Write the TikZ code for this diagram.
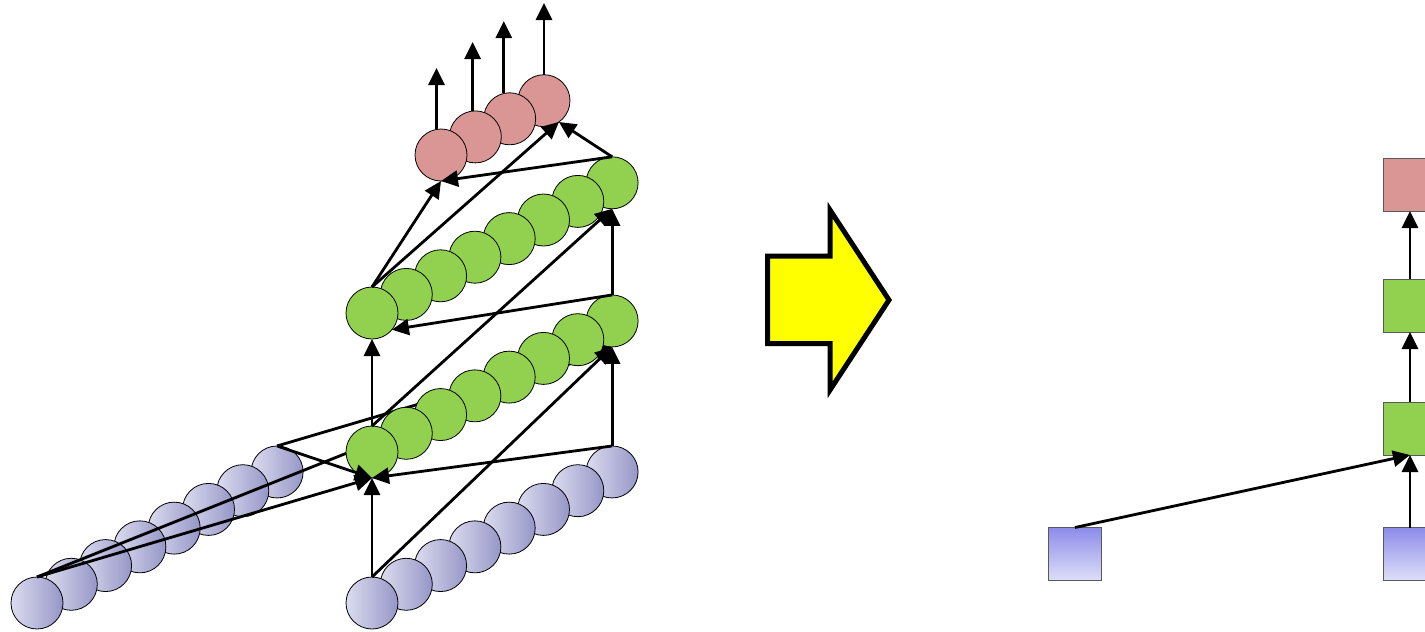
\documentclass[tikz,border=0pt]{standalone}
\usetikzlibrary{arrows.meta,calc}
\pgfdeclarelayer{back}
\pgfdeclarelayer{front}
\pgfdeclarelayer{topl}
\pgfsetlayers{back,main,front,topl}
\definecolor{grn}{HTML}{92D050}
\definecolor{rdd}{HTML}{D99694}
\definecolor{bll}{HTML}{DCDCEF}
\definecolor{bld}{HTML}{9696C8}
\definecolor{sqtop}{HTML}{8C8CEA}
\definecolor{sqbot}{HTML}{DEDEF8}
\definecolor{ylw}{HTML}{FFFF00}
\begin{document}
\begin{tikzpicture}[x=1pt,y=-1pt,
  unit/.style={circle,draw=black,line width=0.8pt,minimum size=52pt,inner sep=0pt,outer sep=0pt},
  bunit/.style={unit,left color=bll,right color=bld},
  gunit/.style={unit,fill=grn},
  runit/.style={unit,fill=rdd},
  sq/.style={rectangle,draw=black!65,line width=0.9pt,minimum size=53pt,inner sep=0pt,outer sep=0pt},
  bsq/.style={sq,top color=sqtop,bottom color=sqbot},
  gsq/.style={sq,fill=grn},
  rsq/.style={sq,fill=rdd},
  conn/.style={line width=2.8pt,-{Triangle[length=17pt,width=16pt]}},
  bigarrow/.style={draw=black,line width=5pt,fill=ylw,line join=miter}]
\useasboundingbox (0,0) rectangle (1425,632);
% ---------- input rows (blue) ----------
\begin{pgfonlayer}{back}
\foreach \i in {8,...,1}{
  \node[bunit] (bl\i) at ({37+34.3*(\i-1)},{603-18.72*(\i-1)}) {};
}
\foreach \i in {8,...,1}{
  \node[bunit] (br\i) at ({372+34.3*(\i-1)},{603-18.72*(\i-1)}) {};
}
\end{pgfonlayer}
% ---------- hidden and output rows ----------
\begin{pgfonlayer}{front}
\foreach \i in {8,...,1}{
  \node[gunit] (gb\i) at ({372+34.3*(\i-1)},{452-18.72*(\i-1)}) {};
}
\foreach \i in {8,...,1}{
  \node[gunit] (gt\i) at ({372+34.3*(\i-1)},{313-18.6*(\i-1)}) {};
}
\foreach \i in {4,...,1}{
  \node[runit] (r\i) at ({441+34.33*(\i-1)},{155-18.1*(\i-1)}) {};
}
\end{pgfonlayer}
% ---------- connectors passing behind the green row ----------
\draw[conn] (bl1.north) -- (gb8.south);
\draw[conn] (bl8.north) -- (gb8.south);
% ---------- other connectors ----------
\begin{pgfonlayer}{topl}
\draw[conn] (bl1.north) -- (gb1.south);
\draw[conn] (bl8.north) -- (gb1.south);
\draw[conn] (br1.north) -- (gb1.south);
\draw[conn] (br1.north) -- (gb8.south);
\draw[conn] (br8.north) -- (gb8.south);
\draw[conn] (br8.north) -- (gb1.south);
\draw[conn] (gb1.north) -- (gt1.south);
\draw[conn] (gb1.north) -- (gt8.south);
\draw[conn] (gb8.north) -- (gt8.south);
\draw[conn] (gb8.north) -- (gt1.-40);
\draw[conn] (gt1.north) -- (r1.south);
\draw[conn] (gt1.north) -- (r4.-55);
\draw[conn] (gt8.north) -- (r1.south);
\draw[conn] (gt8.north) -- (r4.-55);
\coordinate (o1) at (0,68);
\coordinate (o2) at (0,42);
\coordinate (o3) at (0,21);
\coordinate (o4) at (0,3);
\draw[conn] (r1.100) -- (r1.100 |- o1);
\draw[conn] (r2.96) -- (r2.96 |- o2);
\draw[conn] (r3.103) -- (r3.103 |- o3);
\draw[conn] (r4.90) -- (r4.90 |- o4);
\end{pgfonlayer}
% ---------- big yellow arrow ----------
\path[bigarrow] (767.5,256) -- (830,256) -- (830,210) -- (889,300) -- (830,390) -- (830,343.5) -- (767.5,343.5) -- cycle;
% ---------- compact view ----------
\begin{scope}
\clip (0,0) rectangle (1425,632);
\node[bsq] (sb1) at (1075,554) {};
\node[bsq] (sb2) at (1410,554) {};
\node[gsq] (sg1) at (1410,428.5) {};
\node[gsq] (sg2) at (1410,305.5) {};
\node[rsq] (sr) at (1410,184.5) {};
\draw[conn] (sb1.north) -- (sg1.south);
\draw[conn] (sb2.north) -- (sg1.south);
\draw[conn] (sg1.north) -- (sg2.south);
\draw[conn] (sg2.north) -- (sr.south);
\end{scope}
\end{tikzpicture}
\end{document}
